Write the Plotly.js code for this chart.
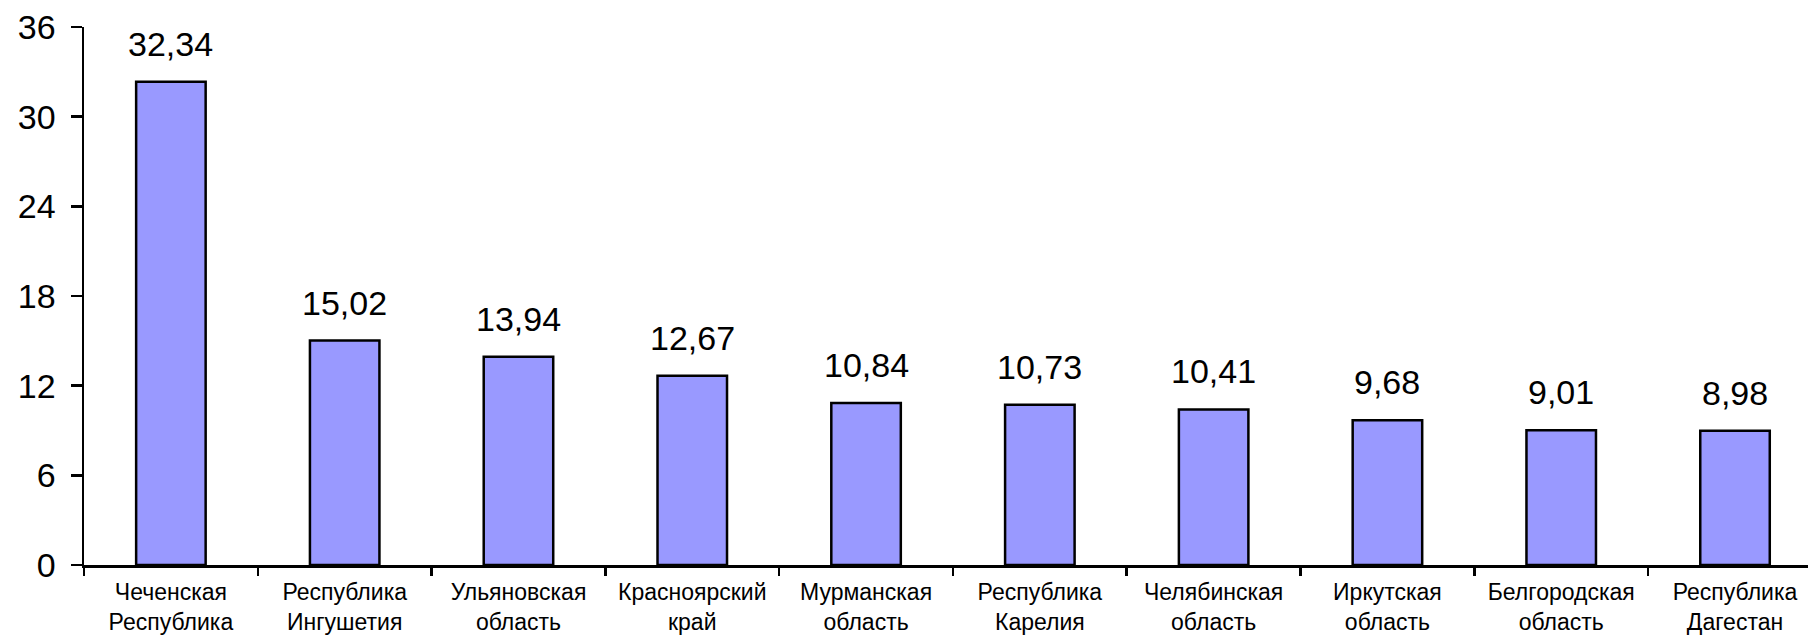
<!DOCTYPE html>
<html>
<head>
<meta charset="utf-8">
<script src="https://cdn.plot.ly/plotly-3.0.1.min.js"></script>
<style>html,body{margin:0;padding:0;background:#fff;}#chart{width:1808px;height:642px;}</style>
</head>
<body>
<div id="chart"></div>
<script>
const categories = [
  "Чеченская<br>Республика",
  "Республика<br>Ингушетия",
  "Ульяновская<br>область",
  "Красноярский<br>край",
  "Мурманская<br>область",
  "Республика<br>Карелия",
  "Челябинская<br>область",
  "Иркутская<br>область",
  "Белгородская<br>область",
  "Республика<br>Дагестан"
];
const values = [32.34, 15.02, 13.94, 12.67, 10.84, 10.73, 10.41, 9.68, 9.01, 8.98];
const valueLabels = ["32,34", "15,02", "13,94", "12,67", "10,84", "10,73", "10,41", "9,68", "9,01", "8,98"];
const yTicks = [0, 6, 12, 18, 24, 30, 36];

const FONT = "Liberation Sans, Arial, sans-serif";

const trace = {
  type: "bar",
  x: categories,
  y: values,
  width: 0.4,
  marker: {color: "#9999FF", line: {color: "#000000", width: 2.5}},
  hoverinfo: "skip"
};

const annotations = categories.map((c, i) => ({
  x: c, y: values[i], xref: "x", yref: "y",
  text: valueLabels[i], showarrow: false,
  yanchor: "bottom", yshift: 17,
  font: {family: FONT, size: 34, color: "#000"}
}));

const layout = {
  width: 1808, height: 642,
  margin: {l: 84, r: 0, t: 27, b: 77},
  paper_bgcolor: "#fff", plot_bgcolor: "#fff",
  showlegend: false,
  font: {family: FONT, color: "#000"},
  xaxis: {
    type: "category",
    range: [-0.5, 9.42],
    showgrid: false, zeroline: false,
    showline: true, linecolor: "#000", linewidth: 2.5,
    ticks: "outside", tickson: "boundaries", ticklen: 8, tickwidth: 2.5, tickcolor: "#000",
    tickfont: {family: FONT, size: 23, color: "#000"},
    ticklabelstandoff: 5
  },
  yaxis: {
    range: [0, 36],
    tickvals: yTicks,
    ticktext: yTicks.map(String),
    showgrid: false, zeroline: false,
    showline: true, linecolor: "#000", linewidth: 2.5,
    ticks: "outside", ticklen: 11, tickwidth: 2.5, tickcolor: "#000",
    tickfont: {family: FONT, size: 34, color: "#000"},
    ticklabelstandoff: 8
  },
  annotations: annotations
};

Plotly.newPlot("chart", [trace], layout, {staticPlot: true, displayModeBar: false});
</script>
</body>
</html>
